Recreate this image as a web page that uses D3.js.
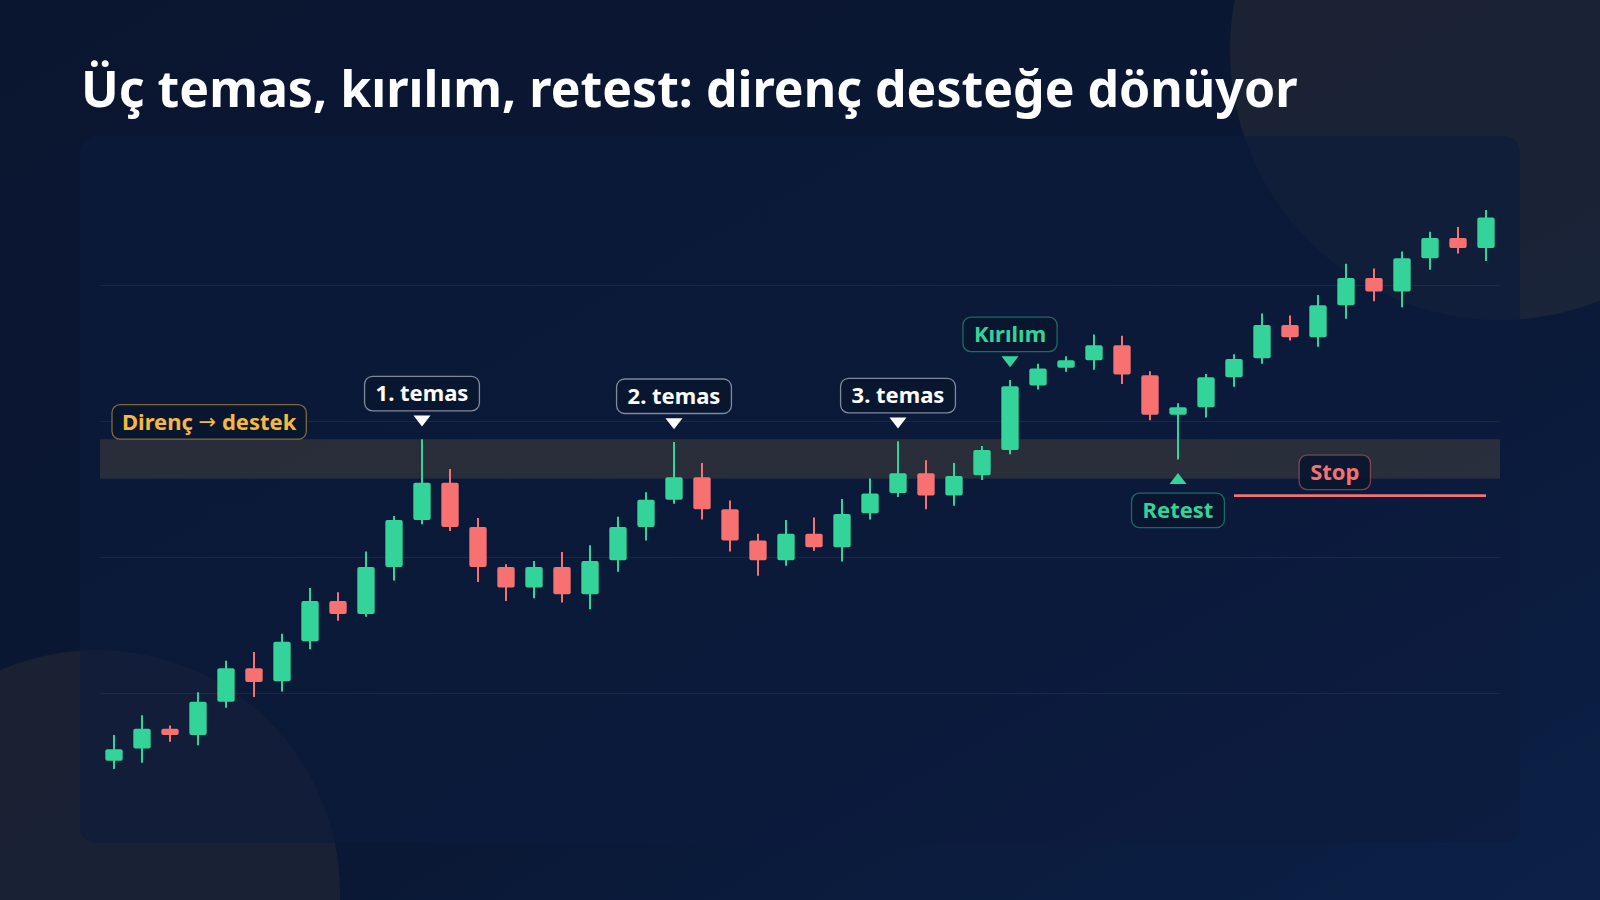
<!DOCTYPE html>
<html>
<head>
<meta charset="utf-8">
<script src="https://cdn.jsdelivr.net/npm/d3@7"></script>
<style>
  html, body { margin: 0; padding: 0; background: #0a1731; }
  svg { display: block; }
  text { font-family: "Noto Sans", "Open Sans", sans-serif; }
</style>
</head>
<body>
<svg id="chart" width="1600" height="900"></svg>
<script>
// ---------------- data ----------------
const titleText = "Üç temas, kırılım, retest: direnç desteğe dönüyor";
const openVals  = [75.05,75.95,77.4,76.95,79.4,81.85,80.9,83.85,86.8,85.85,89.3,92.75,95.5,92.25,89.3,87.8,89.3,87.3,89.8,92.25,94.25,95.9,93.55,91.25,89.8,91.75,90.75,93.25,94.75,96.2,94.55,96.05,97.9,102.65,103.95,104.5,105.6,103.4,100.5,101.05,103.25,104.65,107.1,106.2,108.55,110.55,109.55,112.0,113.5,112.75];
const highVals  = [76.95,78.4,77.65,80.1,82.4,83.05,84.4,87.75,87.45,90.45,93.05,98.7,96.5,92.9,89.5,89.75,90.4,90.9,93.0,94.8,98.5,96.95,94.2,91.75,92.75,92.95,94.3,95.8,98.55,97.15,96.95,98.2,103.05,104.25,104.8,106.4,106.3,103.7,101.35,103.5,104.95,107.95,107.8,109.3,111.6,111.25,112.5,113.95,114.3,115.55];
const lowVals   = [74.45,74.9,76.45,76.2,78.95,79.75,80.15,83.25,85.35,85.65,88.3,92.45,91.95,88.2,86.8,87.0,86.7,86.2,88.95,91.25,93.95,92.8,90.45,88.65,89.4,90.5,89.7,92.8,94.45,93.55,93.8,95.7,97.6,102.35,103.65,103.8,102.75,100.1,97.2,100.3,102.55,104.25,105.95,105.5,107.55,108.85,108.4,111.15,112.35,111.8];
const closeVals = [75.9,77.4,76.95,79.4,81.85,80.85,83.8,86.8,85.85,89.3,92.75,95.5,92.25,89.3,87.8,89.3,87.3,89.75,92.25,94.25,95.9,93.55,91.25,89.8,91.75,90.75,93.2,94.7,96.2,94.55,96.0,97.9,102.6,103.9,104.5,105.6,103.45,100.5,101.05,103.25,104.6,107.1,106.2,108.55,110.55,109.55,112.0,113.5,112.75,115.0];
const gridTicks = [80, 90, 100, 110];
const zoneLow = 95.8, zoneHigh = 98.7;
const zoneLabelParts = ["Direnç ", "→", " destek"];
const topMarkers = [ {i: 11, text: "1. temas", kind: "white"}, {i: 20, text: "2. temas", kind: "white"}, {i: 28, text: "3. temas", kind: "white"}, {i: 32, text: "Kırılım", kind: "green"} ];
const bottomMarkers = [ {i: 38, text: "Retest", kind: "green"} ];
const stopLevel = 94.55, stopFrom = 40, stopTo = 49, stopLabelAt = 43.6;
const stopLabel = "Stop";

// ---------------- styles ----------------
const W = 1600, H = 900;
const GREEN = "#34d399", RED = "#f87171", AMBER = "#f5b841";
const kindColor = {white: "#ffffff", green: GREEN, red: RED, amber: AMBER};
const kindStroke = {white: "rgba(226,232,240,0.55)", green: "rgba(52,211,153,0.45)", red: "rgba(248,113,113,0.45)", amber: "rgba(245,184,65,0.5)"};

const svg = d3.select("#chart");
const defs = svg.append("defs");
const bg = defs.append("linearGradient").attr("id", "bg").attr("x1", "0").attr("y1", "0").attr("x2", "1").attr("y2", "1");
bg.append("stop").attr("offset", "0%").attr("stop-color", "#0a1630");
bg.append("stop").attr("offset", "60%").attr("stop-color", "#0a1835");
bg.append("stop").attr("offset", "100%").attr("stop-color", "#0c2148");

svg.append("rect").attr("width", W).attr("height", H).attr("fill", "url(#bg)");
svg.append("circle").attr("cx", 1500).attr("cy", 50).attr("r", 270).attr("fill", AMBER).attr("opacity", 0.07);
svg.append("circle").attr("cx", 97).attr("cy", 893).attr("r", 243).attr("fill", AMBER).attr("opacity", 0.065);

// title
svg.append("text").attr("x", 81).attr("y", 107)
  .attr("fill", "#ffffff").attr("font-size", 50).attr("font-weight", 700)
  .text(titleText);

// panel
svg.append("rect").attr("x", 80).attr("y", 136).attr("width", 1440).attr("height", 707)
  .attr("rx", 16).attr("fill", "#0d1c3d").attr("opacity", 0.62);

// scales
const idx = d3.range(openVals.length);
const x = d3.scaleBand().domain(idx).range([100, 1500]).padding(0);
const y = d3.scaleLinear().domain([70, 120]).range([829.5, 149.5]);
const cx = i => x(i) + x.bandwidth() / 2;

// grid
svg.append("g").selectAll("line").data(gridTicks).join("line")
  .attr("x1", 100).attr("x2", 1500)
  .attr("y1", d => y(d)).attr("y2", d => y(d))
  .attr("stroke", "rgba(148,163,184,0.10)").attr("stroke-width", 1.2);

// zone
svg.append("rect").attr("x", 100).attr("width", 1400)
  .attr("y", y(zoneHigh)).attr("height", y(zoneLow) - y(zoneHigh))
  .attr("fill", AMBER).attr("opacity", 0.13);

// candles
const candles = idx.map(i => ({i, o: openVals[i], h: highVals[i], l: lowVals[i], c: closeVals[i]}));
const gC = svg.append("g");
const bodyW = x.bandwidth() * 0.62;
gC.selectAll("line.wick").data(candles).join("line").attr("class", "wick")
  .attr("x1", d => cx(d.i)).attr("x2", d => cx(d.i))
  .attr("y1", d => y(d.h)).attr("y2", d => y(d.l))
  .attr("stroke", d => d.c >= d.o ? GREEN : RED).attr("stroke-width", 2);
gC.selectAll("rect.body").data(candles).join("rect").attr("class", "body")
  .attr("x", d => cx(d.i) - bodyW / 2).attr("width", bodyW)
  .attr("y", d => y(Math.max(d.o, d.c)))
  .attr("height", d => Math.max(2, Math.abs(y(d.o) - y(d.c))))
  .attr("rx", 2)
  .attr("fill", d => d.c >= d.o ? GREEN : RED);

// label helper
function label(g, cxPos, yTop, text, kind, padX) {
  const grp = g.append("g");
  const t = grp.append("text").attr("x", cxPos).attr("y", yTop + 25)
    .attr("text-anchor", "middle").attr("font-size", 22).attr("font-weight", 700)
    .attr("fill", kindColor[kind]).text(text);
  const w = t.node().getComputedTextLength() + 2 * (padX || 11);
  grp.insert("rect", "text").attr("x", cxPos - w / 2).attr("y", yTop)
    .attr("width", w).attr("height", 34.5).attr("rx", 8)
    .attr("fill", "#0a1630").attr("fill-opacity", 0.92)
    .attr("stroke", kindStroke[kind]).attr("stroke-width", 1.3);
  return grp;
}

const gA = svg.append("g");
// zone label
(function() {
  const grp = gA.append("g");
  const t = grp.append("text").attr("x", 122).attr("y", y(zoneHigh) - 9.5)
    .attr("font-size", 22).attr("font-weight", 700).attr("fill", AMBER);
  t.append("tspan").text(zoneLabelParts[0]);
  t.append("tspan").attr("font-family", "DejaVu Sans").attr("font-weight", 400)
    .attr("font-size", 21).attr("dy", -1).text(zoneLabelParts[1]);
  t.append("tspan").attr("dy", 1).text(zoneLabelParts[2]);
  const w = t.node().getComputedTextLength() + 20;
  grp.insert("rect", "text").attr("x", 112).attr("y", y(zoneHigh) - 34.5)
    .attr("width", w).attr("height", 34.5).attr("rx", 8)
    .attr("fill", "#0a1630").attr("fill-opacity", 0.92)
    .attr("stroke", kindStroke.amber).attr("stroke-width", 1.3);
})();

topMarkers.forEach(m => {
  const px = cx(m.i), tip = y(highVals[m.i]) - 12.7;
  gA.append("path")
    .attr("d", `M${px - 8.5},${tip - 11} L${px + 8.5},${tip - 11} L${px},${tip} Z`)
    .attr("fill", kindColor[m.kind]);
  label(gA, px, tip - 11 - 4.7 - 34.5, m.text, m.kind);
});
bottomMarkers.forEach(m => {
  const px = cx(m.i), tip = y(lowVals[m.i]) + 13.4;
  gA.append("path")
    .attr("d", `M${px - 8.5},${tip + 11} L${px + 8.5},${tip + 11} L${px},${tip} Z`)
    .attr("fill", kindColor[m.kind]);
  label(gA, px, tip + 11 + 9.2, m.text, m.kind);
});

// stop line
gA.append("line").attr("x1", cx(stopFrom)).attr("x2", cx(stopTo))
  .attr("y1", y(stopLevel)).attr("y2", y(stopLevel))
  .attr("stroke", RED).attr("stroke-width", 2.6);
label(gA, x(0) + x.step() * stopLabelAt + x.bandwidth() / 2, y(stopLevel) - 6 - 34.5, stopLabel, "red");
</script>
</body>
</html>
